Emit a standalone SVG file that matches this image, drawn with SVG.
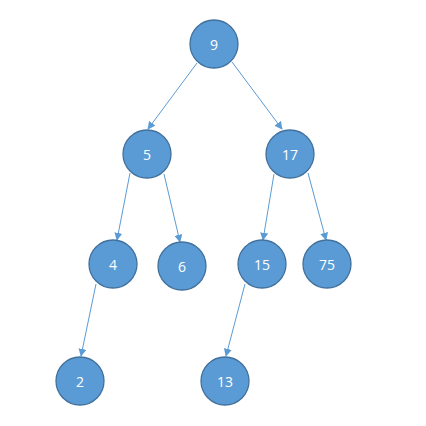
<svg xmlns="http://www.w3.org/2000/svg" width="426" height="426" viewBox="0 0 426 426">
<style>
.n circle{fill:#5b9bd5;stroke:#41719c;stroke-width:1.3}
.n text{fill:#fff;font-family:"Open Sans","Liberation Sans",sans-serif;font-size:14px;text-anchor:middle;dominant-baseline:central}
.e line{stroke:#5b9bd5;stroke-width:1;marker-end:url(#a)}
</style>
<defs>
<marker id="a" viewBox="0 0 10 10" refX="9" refY="5" markerWidth="8" markerHeight="8" markerUnits="userSpaceOnUse" orient="auto">
<path d="M0,0L10,5L0,10z" fill="#5b9bd5"/>
</marker>
</defs>
<rect width="426" height="426" fill="#fff"/>
<g id="edges" class="e">
<line x1="197" y1="63" x2="148" y2="129"/>
<line x1="232" y1="62" x2="282" y2="129"/>
<line x1="130" y1="173" x2="117" y2="240"/>
<line x1="164" y1="174" x2="180" y2="242"/>
<line x1="274" y1="174" x2="263" y2="240"/>
<line x1="308" y1="173" x2="326" y2="240"/>
<line x1="96" y1="284" x2="81" y2="356"/>
<line x1="245" y1="284" x2="226" y2="356"/>
</g>
<g id="n9" class="n"><circle cx="214" cy="44" r="24"/><text x="214" y="44">9</text></g>
<g id="n5" class="n"><circle cx="147" cy="154" r="24"/><text x="147" y="154">5</text></g>
<g id="n17" class="n"><circle cx="290" cy="154" r="24"/><text x="290" y="154">17</text></g>
<g id="n4" class="n"><circle cx="113" cy="264" r="24"/><text x="113" y="264">4</text></g>
<g id="n6" class="n"><circle cx="182" cy="266" r="24"/><text x="182" y="266">6</text></g>
<g id="n15" class="n"><circle cx="262" cy="264" r="24"/><text x="262" y="264">15</text></g>
<g id="n75" class="n"><circle cx="327" cy="264" r="24"/><text x="327" y="264">75</text></g>
<g id="n2" class="n"><circle cx="80" cy="381" r="24"/><text x="80" y="381">2</text></g>
<g id="n13" class="n"><circle cx="225" cy="381" r="24"/><text x="225" y="381">13</text></g>
</svg>
